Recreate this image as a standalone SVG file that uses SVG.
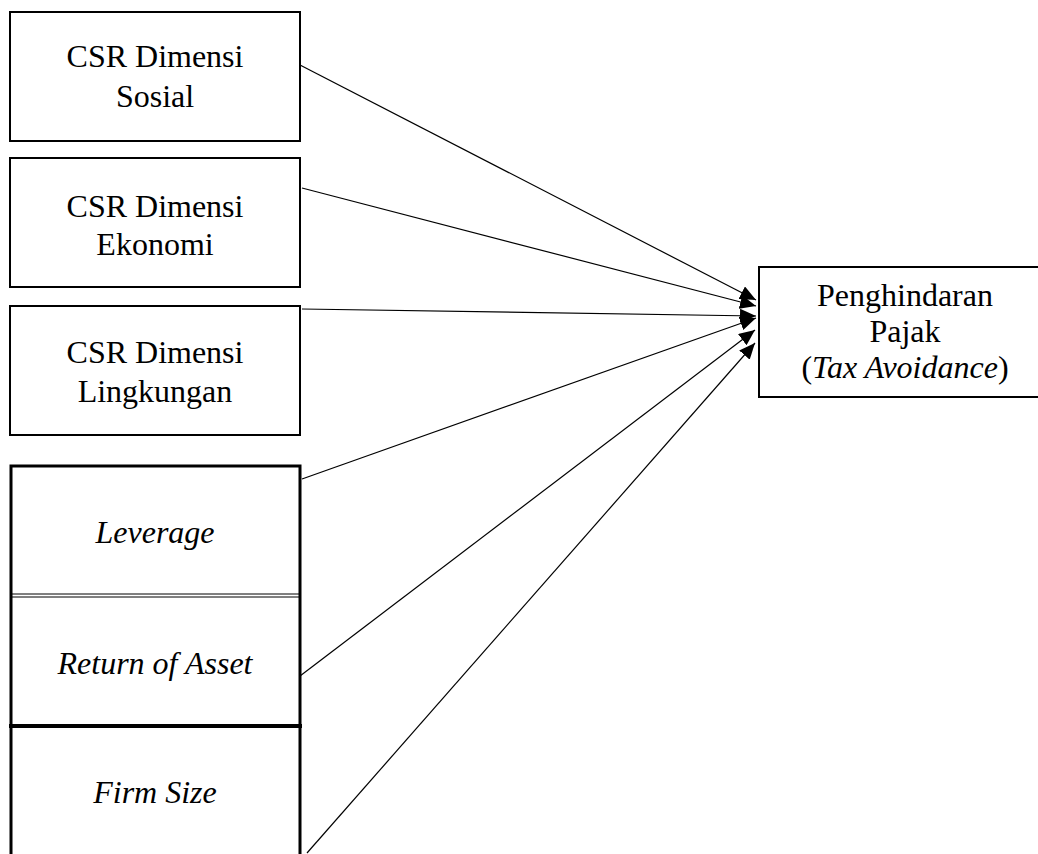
<svg xmlns="http://www.w3.org/2000/svg" width="1038" height="854" viewBox="0 0 1038 854">
<style>
.box{fill:#fff;stroke:#000;stroke-width:2}
.t{font-family:"Liberation Serif","Times New Roman",serif;font-size:32px;fill:#000;text-anchor:middle}
.i{font-style:italic}
.c{stroke:#000;stroke-width:1.2;fill:none;marker-end:url(#ah)}
</style>
<defs>
<marker id="ah" markerUnits="userSpaceOnUse" markerWidth="16" markerHeight="14" refX="16" refY="7" viewBox="0 0 16 14" orient="auto">
<path d="M0,0 L16,7 L0,14 z" fill="#000"/>
</marker>
</defs>
<rect width="1038" height="854" fill="#fff"/>
<g id="n-sosial">
<rect class="box" x="10" y="12" width="290" height="129"/>
<text class="t" x="155" y="67">CSR Dimensi</text>
<text class="t" x="155" y="107">Sosial</text>
</g>
<g id="n-ekonomi">
<rect class="box" x="10" y="158" width="290" height="129"/>
<text class="t" x="155" y="217">CSR Dimensi</text>
<text class="t" x="155" y="255">Ekonomi</text>
</g>
<g id="n-lingkungan">
<rect class="box" x="10" y="306" width="290" height="129"/>
<text class="t" x="155" y="363">CSR Dimensi</text>
<text class="t" x="155" y="402">Lingkungan</text>
</g>
<g id="n-leverage">
<path d="M11,597 V466 H300 V597" fill="none" stroke="#000" stroke-width="3"/>
<line x1="11" y1="594" x2="300" y2="594" stroke="#000" stroke-width="1"/>
<line x1="11" y1="597" x2="300" y2="597" stroke="#000" stroke-width="1"/>
<text class="t i" x="155" y="543">Leverage</text>
</g>
<g id="n-roa">
<path d="M11,597 V726 M300,597 V726" fill="none" stroke="#000" stroke-width="3"/>
<text class="t i" x="155" y="674">Return of Asset</text>
</g>
<g id="n-firmsize">
<path d="M11,860 V726 H300 V860" fill="none" stroke="#000" stroke-width="3"/>
<line x1="9" y1="726" x2="302" y2="726" stroke="#000" stroke-width="4"/>
<text class="t i" x="155" y="803">Firm Size</text>
</g>
<g id="n-tax">
<rect class="box" x="759" y="267" width="290" height="130"/>
<text class="t" x="905" y="306">Penghindaran</text>
<text class="t" x="905" y="342">Pajak</text>
<text class="t" x="905" y="378">(<tspan class="i">Tax Avoidance</tspan>)</text>
</g>
<g id="connectors">
<line class="c" x1="300" y1="65" x2="756" y2="300"/>
<line class="c" x1="302" y1="188" x2="756" y2="306"/>
<line class="c" x1="302" y1="309" x2="756" y2="316"/>
<line class="c" x1="302" y1="479" x2="756" y2="318"/>
<line class="c" x1="300" y1="676" x2="755" y2="330"/>
<line class="c" x1="307" y1="853" x2="755" y2="343"/>
</g>
</svg>
